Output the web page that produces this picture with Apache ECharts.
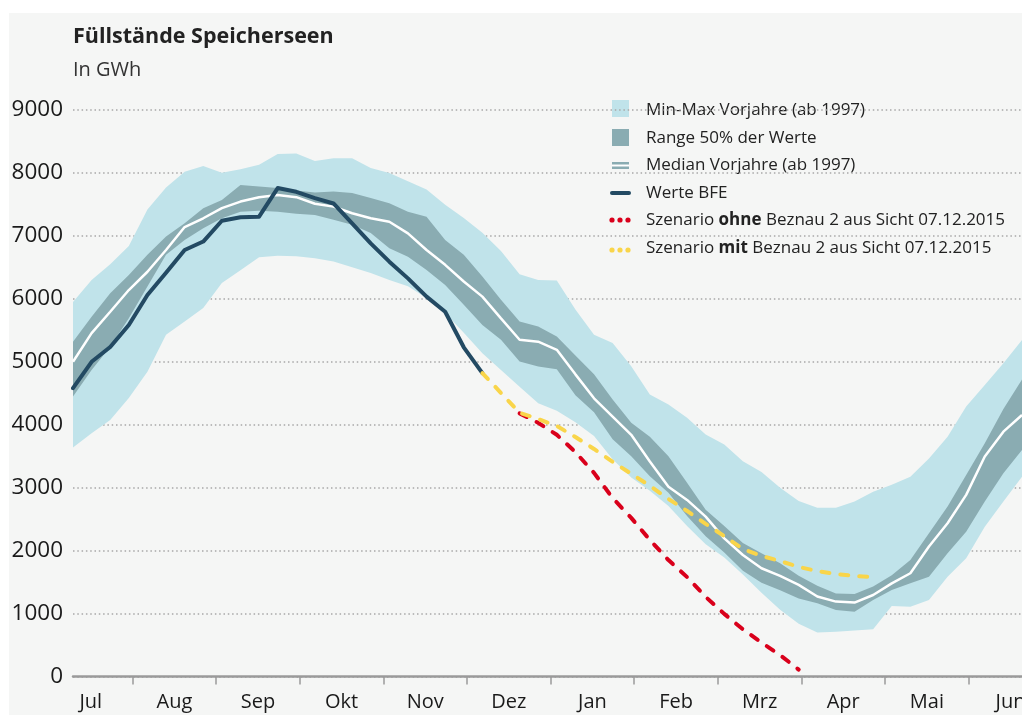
<!DOCTYPE html>
<html lang="de">
<head>
<meta charset="UTF-8">
<title>Füllstände Speicherseen</title>
<script src="https://cdn.jsdelivr.net/npm/echarts@6/dist/echarts.min.js"></script>
<style>
  body { margin: 0; background: #fff; }
  #panel { position: absolute; left: 9px; top: 13px; width: 1013px; height: 702px; background: #f5f6f5; }
  #main { position: absolute; left: 0; top: 0; width: 1022px; height: 715px; }
</style>
</head>
<body>
<div id="panel"></div>
<div id="main"></div>
<script>
  // Kalenderwochen Juli 2015 - Juni 2016
  var weeks = ['2015-W28', '2015-W29', '2015-W30', '2015-W31', '2015-W32', '2015-W33', '2015-W34', '2015-W35',
    '2015-W36', '2015-W37', '2015-W38', '2015-W39', '2015-W40', '2015-W41', '2015-W42', '2015-W43',
    '2015-W44', '2015-W45', '2015-W46', '2015-W47', '2015-W48', '2015-W49', '2015-W50', '2015-W51',
    '2015-W52', '2015-W53', '2016-W01', '2016-W02', '2016-W03', '2016-W04', '2016-W05', '2016-W06',
    '2016-W07', '2016-W08', '2016-W09', '2016-W10', '2016-W11', '2016-W12', '2016-W13', '2016-W14',
    '2016-W15', '2016-W16', '2016-W17', '2016-W18', '2016-W19', '2016-W20', '2016-W21', '2016-W22',
    '2016-W23', '2016-W24', '2016-W25', '2016-W26']
  var months = ['Jul', 'Aug', 'Sep', 'Okt', 'Nov', 'Dez', 'Jan', 'Feb', 'Mrz', 'Apr', 'Mai', 'Jun']

  // Min-Max Vorjahre (ab 1997)
  var maxVals = [5950, 6300, 6550, 6840, 7420, 7770, 8020, 8110, 8005, 8060, 8130, 8300, 8310, 8190, 8235, 8235,
    8080, 8000, 7870, 7735, 7495, 7285, 7050, 6760, 6390, 6300, 6290, 5830, 5430, 5300, 4930, 4480,
    4320, 4110, 3845, 3685, 3420, 3250, 3000, 2790, 2680, 2680, 2780, 2935, 3045, 3175, 3465, 3810,
    4290, 4630, 4975, 5345]
  var minVals = [3640, 3865, 4075, 4425, 4840, 5430, 5640, 5855, 6250, 6455, 6660, 6685, 6675, 6645, 6595, 6500,
    6410, 6300, 6200, 6015, 5775, 5460, 5135, 4870, 4605, 4340, 4220, 4040, 3820, 3450, 3160, 2950,
    2710, 2390, 2100, 1890, 1620, 1330, 1060, 840, 700, 710, 730, 750, 1120, 1110, 1215, 1585,
    1880, 2380, 2780, 3175]
  // Range 50% der Werte
  var q75Vals = [5320, 5715, 6090, 6380, 6700, 6990, 7200, 7440, 7570, 7810, 7785, 7760, 7720, 7690, 7705, 7680,
    7600, 7520, 7385, 7305, 6935, 6700, 6355, 5985, 5640, 5560, 5400, 5100, 4800, 4400, 4030, 3810,
    3500, 3080, 2650, 2390, 2120, 1960, 1800, 1600, 1440, 1320, 1310, 1430, 1610, 1850, 2275, 2700,
    3200, 3705, 4250, 4720]
  var q25Vals = [4450, 4870, 5240, 5690, 6195, 6700, 6935, 7120, 7280, 7385, 7400, 7385, 7350, 7330, 7255, 7175,
    7045, 6805, 6670, 6460, 6220, 5905, 5585, 5350, 5005, 4925, 4880, 4470, 4200, 3770, 3500, 3180,
    2920, 2550, 2230, 1970, 1680, 1490, 1370, 1240, 1165, 1055, 1030, 1215, 1375, 1480, 1585, 1960,
    2300, 2780, 3230, 3600]
  // Median Vorjahre (ab 1997)
  var medianVals = [5000, 5455, 5795, 6140, 6430, 6775, 7140, 7280, 7440, 7545, 7615, 7650, 7615, 7510, 7465, 7360,
    7280, 7225, 7040, 6775, 6540, 6275, 6035, 5690, 5350, 5320, 5190, 4800, 4420, 4130, 3840, 3415,
    3015, 2805, 2540, 2195, 1930, 1720, 1600, 1455, 1270, 1190, 1175, 1295, 1480, 1640, 2065, 2435,
    2885, 3495, 3890, 4155]
  // Werte BFE (bis 07.12.2015)
  var bfeVals = [4580, 5000, 5235, 5585, 6060, 6415, 6775, 6910, 7240, 7295, 7305, 7760, 7700, 7600, 7515, 7200,
    6880, 6590, 6325, 6035, 5795, 5230, 4820]
  // Szenarien ab Woche 50 bzw. 52
  var mitVals = ['-', '-', '-', '-', '-', '-', '-', '-', '-', '-', '-', '-', '-', '-', '-', '-',
    '-', '-', '-', '-', '-', '-', 4820, 4505, 4190, 4090, 3980, 3805, 3615, 3410, 3220, 3030,
    2820, 2630, 2425, 2230, 2025, 1915, 1835, 1740, 1675, 1630, 1595, 1580]
  var ohneVals = ['-', '-', '-', '-', '-', '-', '-', '-', '-', '-', '-', '-', '-', '-', '-', '-',
    '-', '-', '-', '-', '-', '-', '-', '-', 4180, 4030, 3840, 3565, 3235, 2835, 2520, 2170,
    1850, 1580, 1265, 995, 750, 540, 340, 110]

  var cLight = '#c0e3ea'
  var cDark = '#8aacb2'
  var cBfe = '#234a63'
  var cRed = '#d9001b'
  var cYellow = '#f9d54a'
  var font = 'Open Sans'

  var mmRange = maxVals.map(function (v, i) { return v - minVals[i] })
  var iqRange = q75Vals.map(function (v, i) { return v - q25Vals[i] })

  var tickVals = [1, 2, 3, 4, 5, 6, 7, 8, 9, 10, 11]
  var labelVals = [0.5, 1.5, 2.5, 3.5, 4.5, 5.5, 6.5, 7.5, 8.5, 9.5, 10.5, 11.5]

  var chart = echarts.init(document.getElementById('main'))

  // Legende von Hand gezeichnet
  var legendX = 646
  var rows = [110, 138, 165.5, 193, 220.5, 248]
  var legendTexts = ['Min-Max Vorjahre (ab 1997)', 'Range 50% der Werte', 'Median Vorjahre (ab 1997)', 'Werte BFE',
    'Szenario {b|ohne} Beznau 2 aus Sicht 07.12.2015', 'Szenario {b|mit} Beznau 2 aus Sicht 07.12.2015']
  var graphics = []
  legendTexts.forEach(function (t, i) {
    graphics.push({
      type: 'text', x: legendX, y: rows[i],
      style: {
        text: t, fontFamily: font, fontSize: 17, fill: '#222', verticalAlign: 'middle',
        rich: { b: { fontWeight: 'bold', fontSize: 17, fontFamily: font, fill: '#222' } }
      }
    })
  })
  graphics.push({ type: 'rect', shape: { x: 612, y: 100, width: 17, height: 17 }, style: { fill: cLight } })
  graphics.push({ type: 'rect', shape: { x: 612, y: 129, width: 17, height: 17 }, style: { fill: cDark } })
  graphics.push({ type: 'rect', shape: { x: 612, y: 162, width: 17, height: 7 }, style: { fill: cDark } })
  graphics.push({ type: 'line', shape: { x1: 612, y1: 165.5, x2: 629, y2: 165.5 }, style: { stroke: '#fff', lineWidth: 2 } })
  graphics.push({ type: 'line', shape: { x1: 612, y1: 193, x2: 629, y2: 193 }, style: { stroke: cBfe, lineWidth: 4, lineCap: 'round' } })
  ;[612, 620, 628].forEach(function (x) {
    graphics.push({ type: 'circle', shape: { cx: x, cy: 220, r: 2.6 }, style: { fill: cRed } })
    graphics.push({ type: 'circle', shape: { cx: x, cy: 250, r: 2.6 }, style: { fill: cYellow } })
  })

  var option = {
    animation: false,
    title: {
      text: 'Füllstände Speicherseen',
      subtext: 'In GWh',
      left: 68, top: 21,
      itemGap: 12,
      textStyle: { fontFamily: font, fontSize: 21.5, fontWeight: 'bold', color: '#222' },
      subtextStyle: { fontFamily: font, fontSize: 20, color: '#333' }
    },
    grid: { left: 73, right: 0, top: 110, bottom: 38.5, outerBoundsMode: 'none' },
    xAxis: [{
      type: 'category',
      data: weeks,
      boundaryGap: false,
      show: false
    }, {
      type: 'value',
      min: 0.287,
      max: 11.638,
      position: 'bottom',
      axisLine: { show: true, onZero: false, lineStyle: { color: '#9a9a9a', width: 2.5 } },
      axisTick: { show: true, customValues: tickVals, length: 8, lineStyle: { color: '#9a9a9a', width: 1.5 } },
      axisLabel: {
        customValues: labelVals,
        margin: 16,
        fontFamily: font, fontSize: 20, color: '#1a1a1a',
        formatter: function (v) { return months[Math.floor(v)] }
      },
      splitLine: { show: false }
    }],
    yAxis: {
      type: 'value',
      min: 0, max: 9000, interval: 1000,
      axisLine: { show: false },
      axisTick: { show: false },
      axisLabel: { margin: 10, fontFamily: font, fontSize: 22.5, color: '#1a1a1a', formatter: function (v) { return String(v) } },
      splitLine: { lineStyle: { color: '#a8a8a8', width: 1.5, type: [1.5, 2.8] } }
    },
    graphic: graphics,
    series: [
      { name: 'minBase', type: 'line', data: minVals, stack: 'mm', symbol: 'none', lineStyle: { width: 0 }, silent: true },
      { name: 'Min-Max Vorjahre (ab 1997)', type: 'line', data: mmRange, stack: 'mm', symbol: 'none',
        lineStyle: { width: 0 }, areaStyle: { color: cLight, opacity: 1 } },
      { name: 'q25Base', type: 'line', data: q25Vals, stack: 'iq', symbol: 'none', lineStyle: { width: 0 } },
      { name: 'Range 50% der Werte', type: 'line', data: iqRange, stack: 'iq', symbol: 'none',
        lineStyle: { width: 0 }, areaStyle: { color: cDark, opacity: 1 } },
      { name: 'Median Vorjahre (ab 1997)', type: 'line', data: medianVals, symbol: 'none',
        lineStyle: { color: '#fff', width: 2.5 } },
      { name: 'Werte BFE', type: 'line', data: bfeVals, symbol: 'none',
        lineStyle: { color: cBfe, width: 4, join: 'round', cap: 'round' } },
      { name: 'Szenario ohne', type: 'line', data: ohneVals, symbol: 'none',
        lineStyle: { color: cRed, width: 4, type: [8, 11], cap: 'round' } },
      { name: 'Szenario mit', type: 'line', data: mitVals, symbol: 'none',
        lineStyle: { color: cYellow, width: 4, type: [8, 11], cap: 'round' } }
    ]
  }
  chart.setOption(option)
</script>
</body>
</html>
